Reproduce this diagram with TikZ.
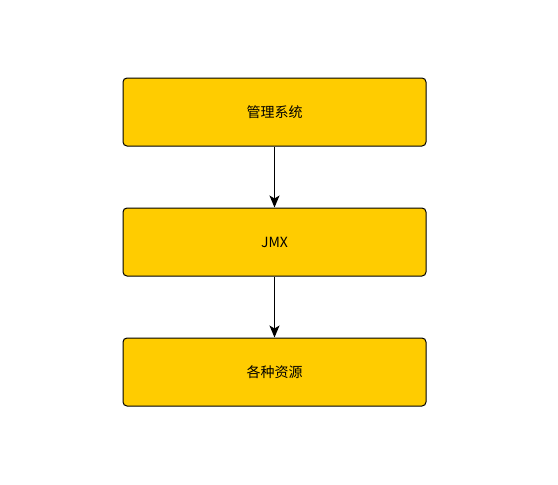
\documentclass[tikz,border=0pt]{standalone}
\usepackage{fontspec}
\newfontfamily\cjk{Noto Sans CJK SC}
\usetikzlibrary{positioning,arrows.meta}
\definecolor{boxyellow}{HTML}{FFCC00}
\tikzset{x=1pt, y=-1pt, node font=\cjk\fontsize{14}{16}\selectfont}
\tikzset{
  layer/.style={draw, fill=boxyellow, rounded corners=4pt, line width=1pt,
    minimum width=303pt, minimum height=68pt, inner sep=0pt},
  flow/.style={-{Stealth[length=12pt, width=10pt, inset=3pt]}, line width=1.2pt}
}

\begin{document}
\begin{tikzpicture}
    \useasboundingbox (0,0) rectangle (558,485);
    \node [layer] (mgmt) at (274.5,112) {管理系统};
    \node [layer, below=61pt of mgmt] (jmx) {JMX};
    \node [layer, below=61pt of jmx] (res) {各种资源};
    \draw [flow] (mgmt) -- (jmx);
    \draw [flow] (jmx) -- (res);
  \end{tikzpicture}
\end{document}
